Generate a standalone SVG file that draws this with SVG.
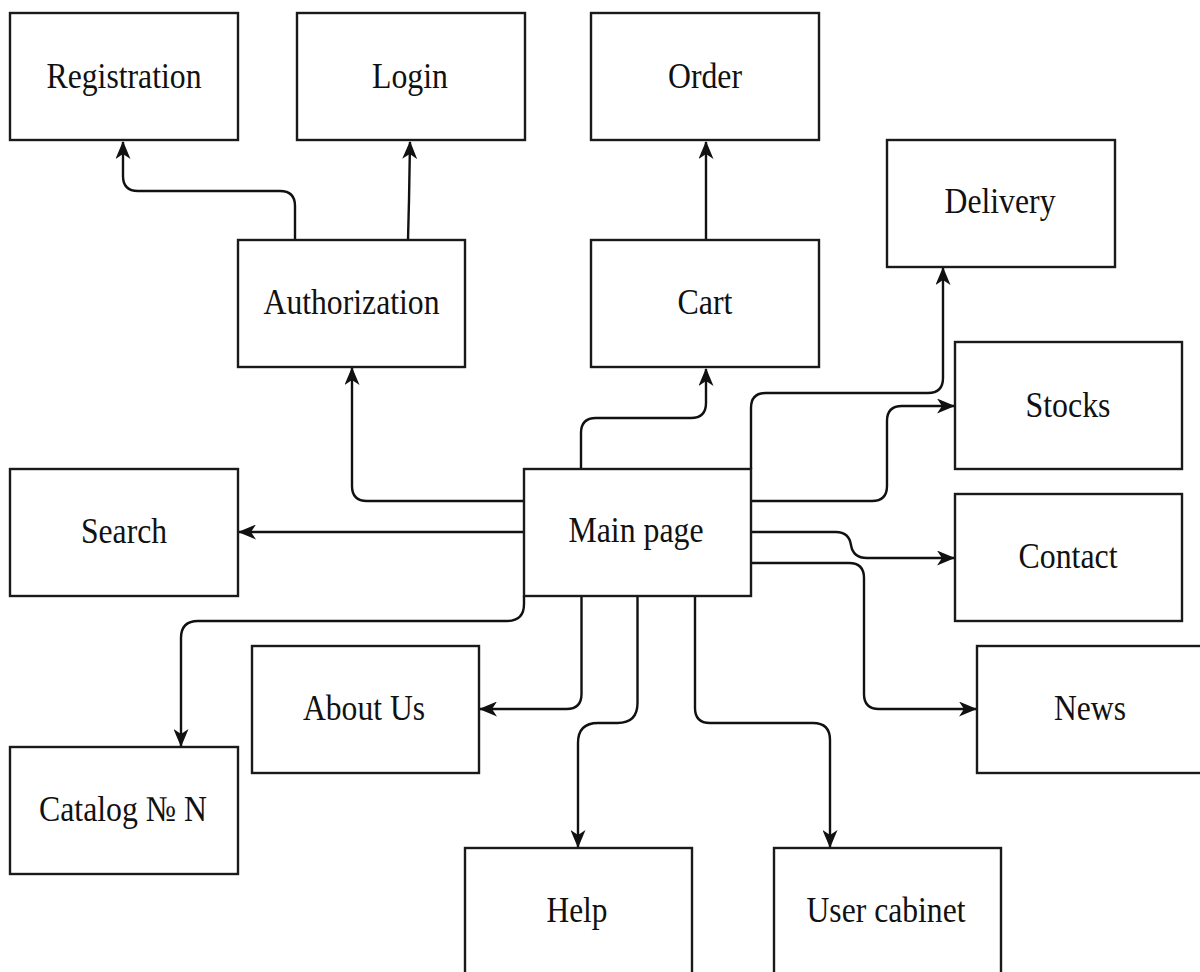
<svg xmlns="http://www.w3.org/2000/svg" width="1200" height="972" viewBox="0 0 1200 972">
<style>
.box{fill:#fff;stroke:#1a1a1a;stroke-width:2.4}
.lbl{font-family:"Liberation Serif","Times New Roman",serif;font-size:36px;fill:#111;text-anchor:middle}
.edge{fill:none;stroke:#111;stroke-width:2.4;marker-end:url(#arr)}
</style>
<defs>
<marker id="arr" viewBox="0 0 18 15" refX="17" refY="7.5" markerWidth="18" markerHeight="15" markerUnits="userSpaceOnUse" orient="auto">
<path d="M0,0 L18,7.5 L0,15 L5,7.5 z" fill="#111"/>
</marker>
</defs>
<rect width="1200" height="972" fill="#fff"/>
<g id="connectors">
<path class="edge" d="M295,240 V206 Q295,191 280,191 H138 Q123,191 123,176 V142"/>
<path class="edge" d="M408,240 L409,200 L410,142"/>
<path class="edge" d="M706,240 V142"/>
<path class="edge" d="M581,469 V433 Q581,418 596,418 H691 Q706,418 706,403 V369"/>
<path class="edge" d="M751,469 V408 Q751,393 766,393 H928 Q943,393 943,378 V268"/>
<path class="edge" d="M752,501 H872 Q887,501 887,486 V421 Q887,406 902,406 H954"/>
<path class="edge" d="M752,532 H836 Q849,532 851,545 Q853,558 867,558 H954"/>
<path class="edge" d="M752,563 H849 Q864,563 864,578 V694 Q864,709 879,709 H976"/>
<path class="edge" d="M524,501 H367 Q352,501 352,486 V368"/>
<path class="edge" d="M524,532 H239"/>
<path class="edge" d="M524,596 V604 Q524,621 507,621 H198 Q181,621 181,638 V746"/>
<path class="edge" d="M581.5,596 V694 Q581.5,709 566.5,709 H480"/>
<path class="edge" d="M637.5,596 V703 Q637.5,723 617.5,723 H598 Q578,723 578,743 V847"/>
<path class="edge" d="M695,596 V708 Q695,723 710,723 H813 Q830,723 830,740 V847"/>
</g>
<g id="registration"><rect class="box" x="10" y="13" width="228" height="127"/><text class="lbl" x="124" y="88" textLength="155" lengthAdjust="spacingAndGlyphs">Registration</text></g>
<g id="login"><rect class="box" x="297" y="13" width="228" height="127"/><text class="lbl" x="410" y="88" textLength="76" lengthAdjust="spacingAndGlyphs">Login</text></g>
<g id="order"><rect class="box" x="591" y="13" width="228" height="127"/><text class="lbl" x="705" y="88" textLength="74" lengthAdjust="spacingAndGlyphs">Order</text></g>
<g id="delivery"><rect class="box" x="887" y="140" width="228" height="127"/><text class="lbl" x="1000" y="213" textLength="111" lengthAdjust="spacingAndGlyphs">Delivery</text></g>
<g id="authorization"><rect class="box" x="238" y="240" width="227" height="127"/><text class="lbl" x="351.5" y="314" textLength="176" lengthAdjust="spacingAndGlyphs">Authorization</text></g>
<g id="cart"><rect class="box" x="591" y="240" width="228" height="127"/><text class="lbl" x="705" y="314" textLength="55" lengthAdjust="spacingAndGlyphs">Cart</text></g>
<g id="stocks"><rect class="box" x="955" y="342" width="227" height="127"/><text class="lbl" x="1068" y="417" textLength="85" lengthAdjust="spacingAndGlyphs">Stocks</text></g>
<g id="search"><rect class="box" x="10" y="469" width="228" height="127"/><text class="lbl" x="124" y="543" textLength="86" lengthAdjust="spacingAndGlyphs">Search</text></g>
<g id="main-page"><rect class="box" x="524" y="469" width="227" height="127"/><text class="lbl" x="636" y="542" textLength="135" lengthAdjust="spacingAndGlyphs">Main page</text></g>
<g id="contact"><rect class="box" x="955" y="494" width="227" height="127"/><text class="lbl" x="1068" y="568" textLength="99" lengthAdjust="spacingAndGlyphs">Contact</text></g>
<g id="about-us"><rect class="box" x="252" y="646" width="227" height="127"/><text class="lbl" x="364" y="719.5" textLength="122" lengthAdjust="spacingAndGlyphs">About Us</text></g>
<g id="news"><rect class="box" x="977" y="646" width="228" height="127"/><text class="lbl" x="1090" y="720" textLength="72" lengthAdjust="spacingAndGlyphs">News</text></g>
<g id="catalog"><rect class="box" x="10" y="747" width="228" height="127"/><text class="lbl" x="123" y="821" textLength="168" lengthAdjust="spacingAndGlyphs">Catalog № N</text></g>
<g id="help"><rect class="box" x="465" y="848" width="227" height="140"/><text class="lbl" x="577" y="922" textLength="61" lengthAdjust="spacingAndGlyphs">Help</text></g>
<g id="user-cabinet"><rect class="box" x="774" y="848" width="227" height="140"/><text class="lbl" x="886" y="922" textLength="159" lengthAdjust="spacingAndGlyphs">User cabinet</text></g>
</svg>
